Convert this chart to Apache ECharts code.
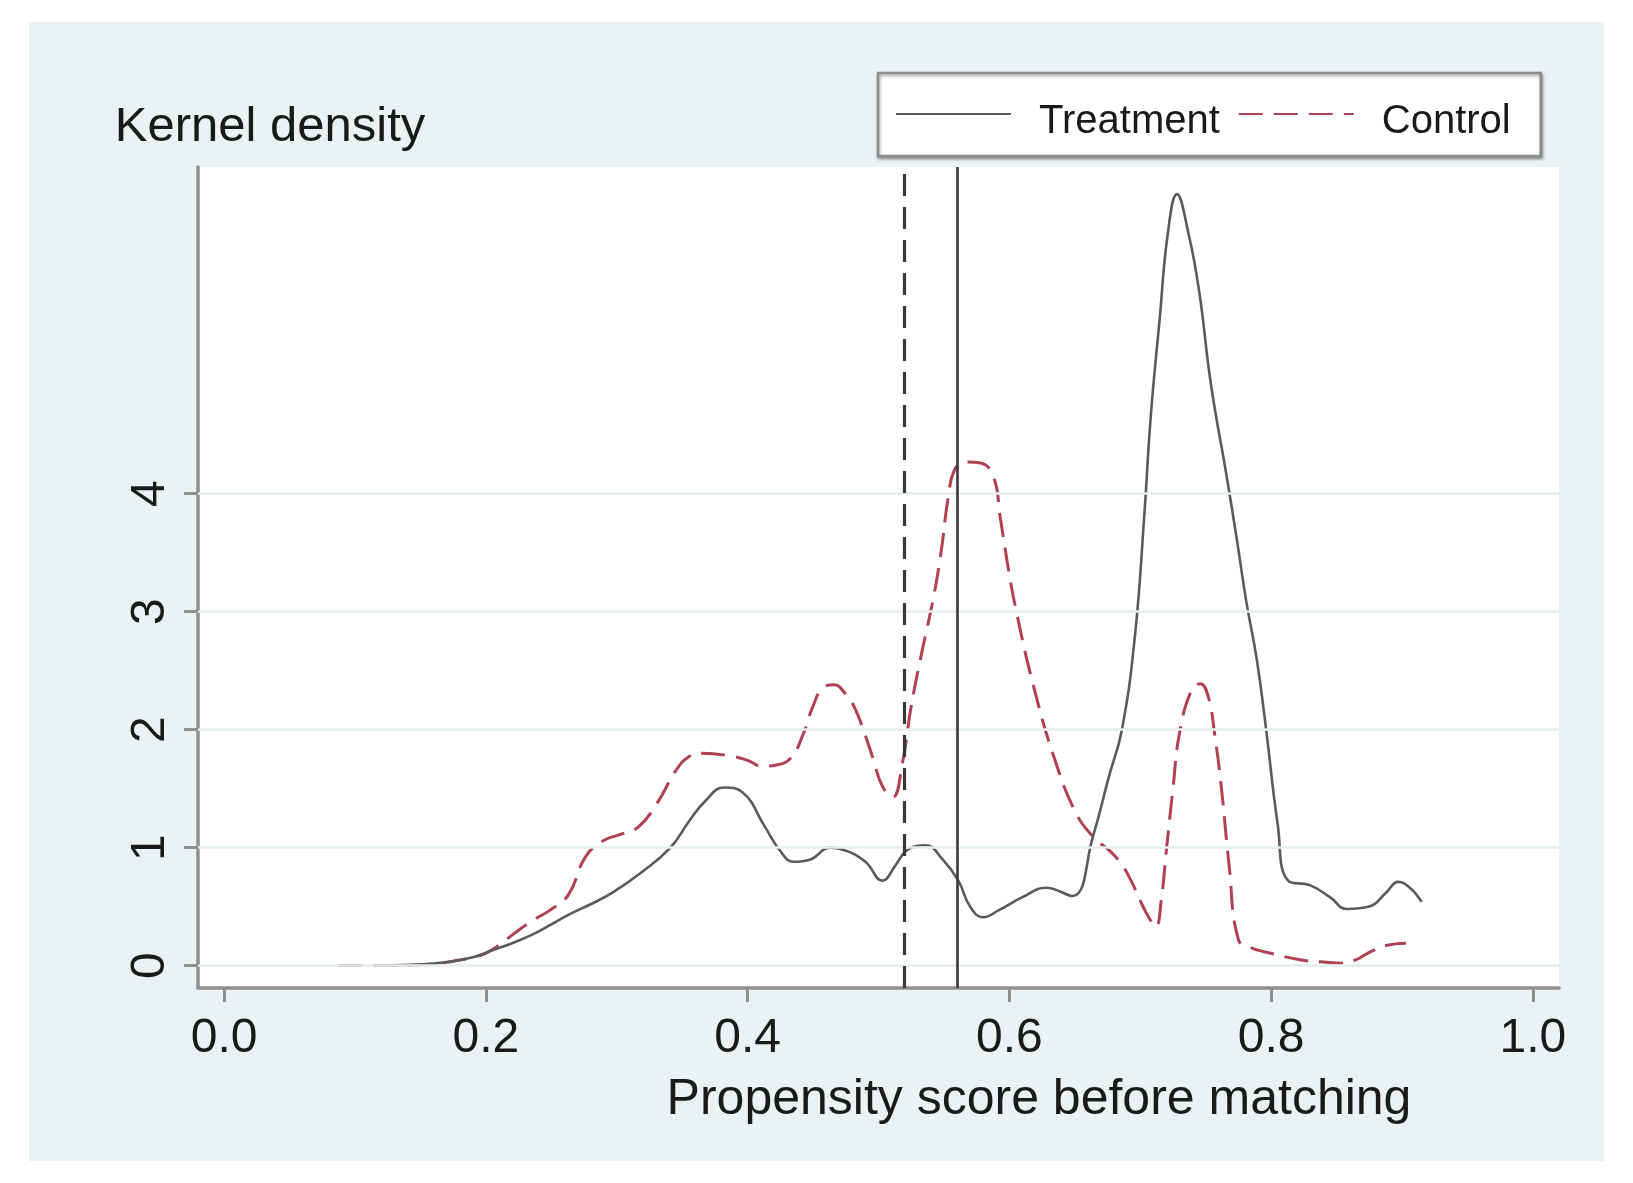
<!DOCTYPE html>
<html>
<head>
<meta charset="utf-8">
<script src="https://cdn.jsdelivr.net/npm/echarts@6/dist/echarts.min.js"></script>
<style>
  html, body { margin: 0; padding: 0; background: #ffffff; }
  #chart { width: 1633px; height: 1183px; }
</style>
</head>
<body>
<div id="chart"></div>
<script>
// ---- data ----
const xTicks = [0.0, 0.2, 0.4, 0.6, 0.8, 1.0];
const yTicks = [0, 1, 2, 3, 4];
const seriesNames = ['Treatment', 'Control'];
const verticalLines = [0.524, 0.563]; // control mean (dashed), treatment mean (solid)

const treatment = [
  [0.120, 0.00], [0.150, 0.01], [0.171, 0.03], [0.190, 0.07], [0.205, 0.13],
  [0.220, 0.19], [0.235, 0.26], [0.250, 0.35], [0.263, 0.43], [0.280, 0.52],
  [0.297, 0.62], [0.320, 0.80], [0.341, 1.00], [0.355, 1.22], [0.368, 1.40],
  [0.382, 1.51], [0.396, 1.47], [0.413, 1.18], [0.425, 0.97], [0.435, 0.88],
  [0.448, 0.90], [0.463, 1.00], [0.476, 0.97], [0.490, 0.88], [0.503, 0.72],
  [0.513, 0.85], [0.522, 0.98], [0.536, 1.02], [0.549, 0.90], [0.561, 0.72],
  [0.570, 0.50], [0.580, 0.41], [0.592, 0.47], [0.610, 0.58], [0.628, 0.66],
  [0.648, 0.59], [0.664, 1.10], [0.676, 1.60], [0.686, 2.00], [0.696, 2.80],
  [0.703, 3.80], [0.708, 4.65], [0.715, 5.50], [0.721, 6.20], [0.728, 6.54],
  [0.737, 6.20], [0.745, 5.72], [0.754, 4.93], [0.766, 4.15], [0.774, 3.60],
  [0.781, 3.09], [0.789, 2.60], [0.796, 2.02], [0.805, 1.20], [0.813, 0.72],
  [0.830, 0.68], [0.845, 0.58], [0.858, 0.48], [0.875, 0.50], [0.888, 0.62],
  [0.897, 0.71], [0.906, 0.66], [0.915, 0.54]
];

const control = [
  [0.087, 0.00], [0.110, 0.00], [0.137, 0.00], [0.155, 0.01], [0.171, 0.03],
  [0.190, 0.07], [0.201, 0.11], [0.213, 0.20], [0.225, 0.30], [0.237, 0.39],
  [0.249, 0.47], [0.263, 0.60], [0.276, 0.92], [0.290, 1.06], [0.305, 1.12],
  [0.317, 1.18], [0.331, 1.38], [0.345, 1.65], [0.355, 1.77], [0.365, 1.80],
  [0.385, 1.78], [0.400, 1.74], [0.411, 1.69], [0.422, 1.70], [0.433, 1.76],
  [0.442, 1.95], [0.450, 2.20], [0.458, 2.36], [0.466, 2.38], [0.475, 2.30],
  [0.482, 2.18], [0.489, 1.98], [0.496, 1.75], [0.503, 1.52], [0.511, 1.43],
  [0.518, 1.70], [0.525, 2.20], [0.533, 2.65], [0.542, 3.12], [0.548, 3.52],
  [0.553, 3.95], [0.558, 4.20], [0.566, 4.27], [0.578, 4.26], [0.588, 4.14],
  [0.593, 3.80], [0.599, 3.38], [0.605, 3.02], [0.618, 2.39], [0.634, 1.77],
  [0.651, 1.29], [0.665, 1.08], [0.676, 0.98], [0.685, 0.87], [0.693, 0.72],
  [0.700, 0.55], [0.707, 0.40], [0.712, 0.33], [0.716, 0.55], [0.720, 0.98],
  [0.725, 1.50], [0.730, 1.97], [0.739, 2.33], [0.746, 2.39], [0.752, 2.28],
  [0.757, 1.95], [0.762, 1.51], [0.768, 0.84], [0.775, 0.22], [0.785, 0.15],
  [0.794, 0.12], [0.822, 0.05], [0.840, 0.03], [0.855, 0.02], [0.865, 0.05],
  [0.873, 0.10], [0.888, 0.17], [0.903, 0.19]
];

// ---- chart ----
const FONT = "'Liberation Sans', Arial, Helvetica, sans-serif";
const TEXT = '#1a1a1a';
const AXIS = '#8f8f8f';

const chart = echarts.init(document.getElementById('chart'), null, { renderer: 'canvas' });

chart.setOption({
  animation: false,
  backgroundColor: '#ffffff',
  graphic: [{
    type: 'rect',
    z: -10,
    shape: { x: 29, y: 22, width: 1575, height: 1139 },
    style: { fill: '#EAF2F3' },
    silent: true
  }],
  grid: {
    left: 198, right: 74, top: 167, bottom: 195,
    show: true, backgroundColor: '#ffffff', borderWidth: 0
  },
  legend: {
    data: seriesNames,
    left: 878, top: 73,
    orient: 'horizontal',
    padding: [13, 30, 14, 17],
    itemWidth: 115, itemHeight: 14, itemGap: 18,
    backgroundColor: '#ffffff',
    borderColor: '#8c8c8c', borderWidth: 2.5,
    shadowColor: 'rgba(0,0,0,0.35)', shadowBlur: 3, shadowOffsetX: 1, shadowOffsetY: 2,
    itemStyle: { opacity: 0 },
    formatter: name => '\n' + name,
    textStyle: { fontFamily: FONT, fontSize: 40, color: TEXT, lineHeight: 16, padding: [0, 0, 0, 23] },
    selectedMode: false
  },
  xAxis: {
    type: 'value',
    min: -0.02, max: 1.02,
    name: 'Propensity score before matching',
    nameLocation: 'middle',
    nameGap: 87,
    nameTextStyle: { fontFamily: FONT, fontSize: 50, color: TEXT, padding: [0, 0, 0, 321] },
    axisLine: { show: true, onZero: false, lineStyle: { color: AXIS, width: 3.5 } },
    axisTick: { show: true, inside: false, length: 14, customValues: xTicks, lineStyle: { color: AXIS, width: 3 } },
    axisLabel: {
      customValues: xTicks, margin: 27,
      fontFamily: FONT, fontSize: 48, color: TEXT,
      formatter: v => v.toFixed(1)
    },
    splitLine: { show: false }
  },
  yAxis: {
    type: 'value',
    min: -0.19, max: 6.77,
    name: 'Kernel density',
    nameLocation: 'end',
    nameGap: 15,
    nameTextStyle: { fontFamily: FONT, fontSize: 49, color: TEXT, align: 'center', padding: [0, 0, 0, 144] },
    axisLine: { show: true, onZero: false, lineStyle: { color: AXIS, width: 3.5 } },
    axisTick: { show: true, inside: false, length: 14, customValues: yTicks, lineStyle: { color: AXIS, width: 3 } },
    axisLabel: {
      customValues: yTicks, margin: 23, rotate: 90,
      fontFamily: FONT, fontSize: 48, color: TEXT,
      formatter: v => String(v)
    },
    splitLine: { show: false }
  },
  series: [
    {
      name: 'grid',
      type: 'line',
      data: [],
      silent: true,
      markLine: {
        silent: true, symbol: 'none', label: { show: false },
        lineStyle: { color: '#E4EEF0', width: 2.5, type: 'solid' },
        data: yTicks.map(v => ({ yAxis: v }))
      }
    },
    {
      name: 'Treatment',
      type: 'line',
      data: treatment,
      symbol: 'none',
      smooth: 0.45,
      lineStyle: { color: '#5a5a5a', width: 2.6, type: 'solid' },
      itemStyle: { color: '#5a5a5a' },
      z: 4
    },
    {
      name: 'Control',
      type: 'line',
      data: control,
      symbol: 'none',
      smooth: 0.45,
      lineStyle: { color: '#b0414f', width: 3, type: [24, 11] },
      itemStyle: { color: '#b0414f' },
      z: 3,
      markLine: {
        silent: true, symbol: 'none', label: { show: false },
        data: [
          { xAxis: verticalLines[0], lineStyle: { color: '#383838', width: 3.2, type: [22, 11] } },
          { xAxis: verticalLines[1], lineStyle: { color: '#383838', width: 2.6, type: 'solid' } }
        ]
      }
    }
  ]
});
</script>
</body>
</html>
